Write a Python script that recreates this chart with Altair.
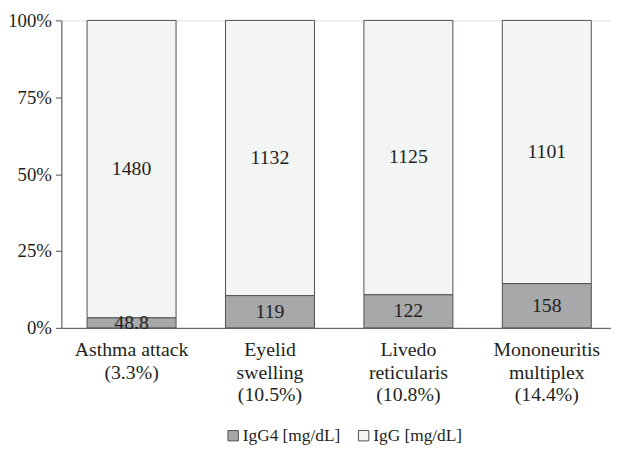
import altair as alt
import pandas as pd

categories = ["Asthma attack|(3.3%)", "Eyelid|swelling|(10.5%)", "Livedo|reticularis|(10.8%)", "Mononeuritis|multiplex|(14.4%)"]
igg4_values = ["48.8", "119", "122", "158"]
igg_values = ["1480", "1132", "1125", "1101"]
igg4_pct = [3.3, 10.5, 10.8, 14.4]
series = ["IgG4 [mg/dL]", "IgG [mg/dL]"]

rows = []
for c, v4, v, p in zip(categories, igg4_values, igg_values, igg4_pct):
    rows.append({"cat": c, "series": series[0], "share": p, "label": v4, "ord": 0})
    rows.append({"cat": c, "series": series[1], "share": 100 - p, "label": v, "ord": 1})
df = pd.DataFrame(rows)

FONT = "Liberation Serif"
FS = 20
TXT = "#231f20"
LINE = "#505050"

base = alt.Chart(df).transform_stack(
    stack="share", groupby=["cat"], sort=[alt.SortField("ord")], as_=["y0", "y1"]
).transform_calculate(mid="(datum.y0 + datum.y1) / 2")

xenc = alt.X("cat:N", sort=categories, title=None,
             scale=alt.Scale(paddingInner=0.357, paddingOuter=0.164, align=0.566),
             axis=alt.Axis(labelExpr="split(datum.label, '|')", labelAngle=0, ticks=False,
                           labelFont=FONT, labelFontSize=FS, labelColor=TXT,
                           labelLineHeight=23, labelPadding=12, domainColor=LINE,
                           labelBaseline="top"))

bars = base.mark_bar(stroke=LINE, strokeWidth=1).encode(
    x=xenc,
    y=alt.Y("y0:Q", title=None, scale=alt.Scale(domain=[0, 100], nice=False),
            axis=alt.Axis(values=[0, 25, 50, 75, 100], labelExpr="datum.value + '%'",
                          labelFont=FONT, labelFontSize=19, labelColor=TXT,
                          grid=False, tickSize=6, tickColor=LINE, domainColor=LINE,
                          labelPadding=4)),
    y2="y1:Q",
    color=alt.Color("series:N", scale=alt.Scale(domain=series, range=["#a7a8aa", "#f3f4f4"]),
                    title=None,
                    legend=alt.Legend(orient="none", legendX=165, legendY=411, direction="horizontal",
                                      symbolType="square", symbolSize=110, symbolStrokeColor=LINE,
                                      symbolStrokeWidth=1, labelFont=FONT, labelFontSize=17.5,
                                      labelColor=TXT, columnPadding=14, labelOffset=1)),
)

texts = base.mark_text(font=FONT, fontSize=FS, color=TXT, baseline="middle").encode(
    x=alt.X("cat:N", sort=categories),
    y=alt.Y("mid:Q"),
    text="label:N",
)

chart = alt.layer(bars, texts).properties(
    width=556, height=311,
    padding={"left": 54, "top": 10, "right": 0, "bottom": 120},
    autosize=alt.AutoSizeParams(type="none"),
).configure_view(stroke=None).configure(background="white")

chart.save("out.html", embed_options={"renderer": "svg", "actions": False})
